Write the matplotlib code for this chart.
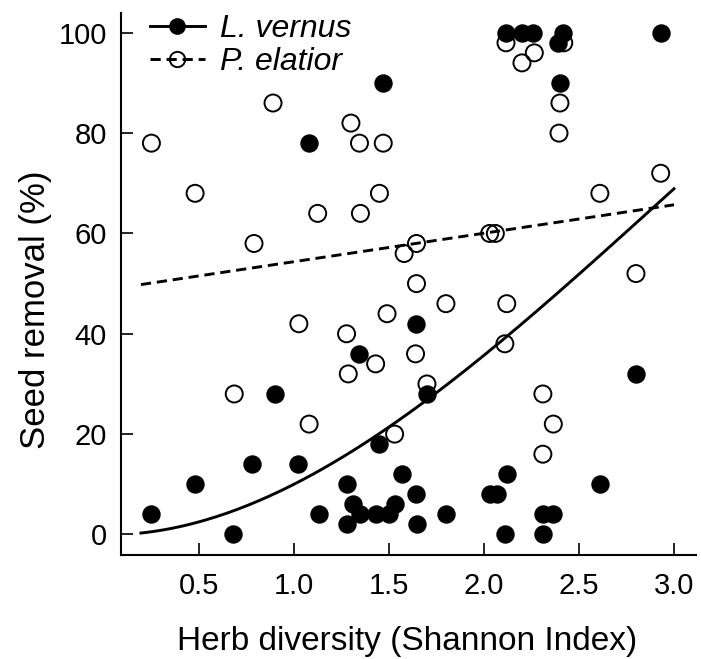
import matplotlib.pyplot as plt
import numpy as np
from matplotlib.lines import Line2D

plt.rcParams['font.family'] = ['Liberation Sans', 'DejaVu Sans']

# L. vernus (закрашенные точки)
vernus_x = [0.25, 0.48, 0.68, 0.78, 0.90, 1.02, 1.08, 1.13, 1.28, 1.28,
            1.31, 1.35, 1.34, 1.43, 1.45, 1.50, 1.53, 1.47, 1.57, 1.64,
            1.645, 1.65, 1.70, 1.80, 2.03, 2.07, 2.12, 2.11, 2.31, 2.365,
            2.31, 2.61, 2.80, 2.116, 2.20, 2.26, 2.417, 2.93, 2.39, 2.40]
vernus_y = [4, 10, 0, 14, 28, 14, 78, 4, 10, 2,
            6, 4, 36, 4, 18, 4, 6, 90, 12, 42,
            8, 2, 28, 4, 8, 8, 12, 0, 4, 4,
            0, 10, 32, 100, 100, 100, 100, 100, 98, 90]

# P. elatior (пустые точки)
elatior_x = [0.25, 0.48, 0.89, 0.79, 1.125, 1.30, 1.345, 1.47, 1.35, 1.45,
             1.58, 1.645, 1.645, 1.80, 2.12, 2.03, 2.06, 2.61, 2.93, 2.80,
             2.116, 2.20, 2.265, 2.42, 2.40, 2.395, 1.026, 1.277, 1.286, 1.43,
             1.49, 0.686, 1.08, 1.53, 1.64, 1.70, 2.11, 2.31, 2.365, 2.31]
elatior_y = [78, 68, 86, 58, 64, 82, 78, 78, 64, 68,
             56, 58, 50, 46, 46, 60, 60, 68, 72, 52,
             98, 94, 96, 98, 86, 80, 42, 40, 32, 34,
             44, 28, 22, 20, 36, 30, 38, 28, 22, 16]

# коэффициенты подогнанных кривых
vernus_coef = [-1.354, 11.875, -0.445, -0.075]   # кубическая
elatior_coef = [5.67, 48.7]                      # прямая
fit_range = (0.195, 3.0)

fig = plt.figure(figsize=(7.01, 6.59), dpi=100)
ax = fig.add_axes([0.1726, 0.1578, 0.8203, 0.8229])

xs = np.linspace(fit_range[0], fit_range[1], 200)
ax.plot(xs, np.polyval(vernus_coef, xs), color='black', lw=2.1, zorder=3)
ax.plot(xs, np.polyval(elatior_coef, xs), color='black', lw=2.1,
        linestyle=(0, (3.5, 2)), zorder=3)

ax.scatter(elatior_x, elatior_y, s=150, facecolors='none', edgecolors='black',
           linewidths=1.4, zorder=2)
ax.scatter(vernus_x, vernus_y, s=150, color='black', zorder=4)

ax.set_xlim(0.09, 3.116)
ax.set_ylim(-4.1, 104)
ax.set_xticks([0.5, 1.0, 1.5, 2.0, 2.5, 3.0])
ax.set_yticks([0, 20, 40, 60, 80, 100])
ax.spines['top'].set_visible(False)
ax.spines['right'].set_visible(False)
ax.spines['left'].set_linewidth(1.5)
ax.spines['bottom'].set_linewidth(1.5)
ax.tick_params(direction='in', length=8.5, width=1.2, labelsize=21)
ax.tick_params(axis='y', pad=10)
ax.tick_params(axis='x', pad=12)

ax.set_xlabel('Herb diversity (Shannon Index)', fontsize=24)
ax.set_ylabel('Seed removal (%)', fontsize=25)
ax.xaxis.set_label_coords(0.497, -0.131)
ax.yaxis.set_label_coords(-0.12, 0.452)

handles = [
    Line2D([], [], color='black', lw=2.1, marker='o', markersize=11),
    Line2D([], [], color='black', lw=2.1, linestyle=(0, (3.5, 2)), marker='o',
           markersize=11, markerfacecolor='none', markeredgewidth=1.4),
]
leg = ax.legend(handles, ['L. vernus', 'P. elatior'], loc='upper left',
                bbox_to_anchor=(0.0, 1.051), frameon=False, handlelength=1.72,
                handletextpad=0.47, labelspacing=0.1,
                prop={'size': 23, 'style': 'italic'})

fig.savefig('out.png', dpi=100)
